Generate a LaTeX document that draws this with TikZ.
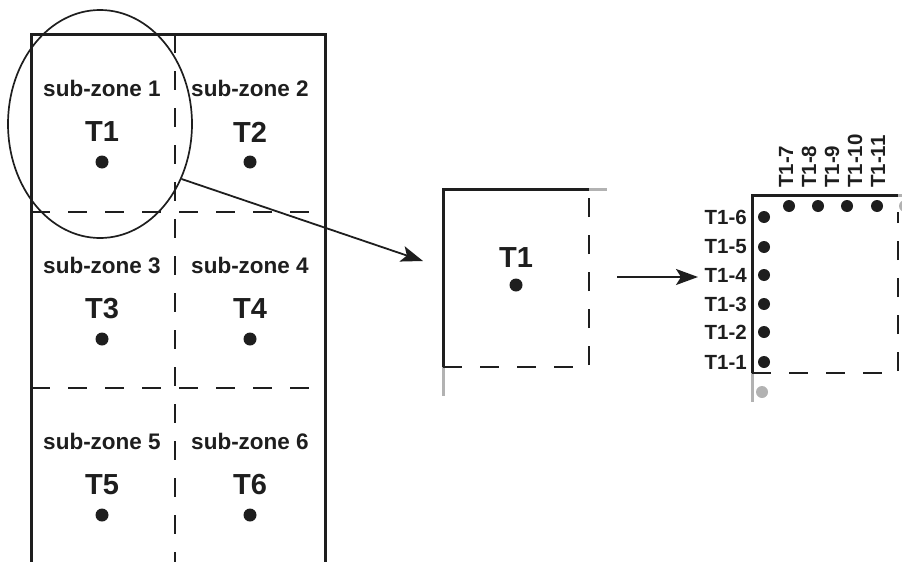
\documentclass[tikz,border=0pt]{standalone}
\usepackage{fontspec}
\setmainfont{Liberation Sans}
\usetikzlibrary{arrows.meta,shapes.geometric}
\definecolor{lgray}{RGB}{178,178,178}
\definecolor{ink}{RGB}{30,30,30}
\tikzset{
  solidline/.style={line width=3pt,ink},
  dashline/.style={line width=1.9pt,ink,dash pattern=on 19pt off 18pt},
  grayline/.style={line width=3pt,lgray},
  zonelabel/.style={font=\bfseries\fontsize{22.5}{25}\selectfont,inner sep=0pt,text=ink},
  tlabel/.style={font=\bfseries\fontsize{29}{32}\selectfont,inner sep=0pt,text=ink},
  smalllabel/.style={font=\bfseries\fontsize{20.5}{23}\selectfont,inner sep=0pt,text=ink},
  bigdot/.style={circle,fill=ink,inner sep=0pt,minimum size=13pt},
  smalldot/.style={circle,fill=ink,inner sep=0pt,minimum size=12pt},
  graydot/.style={circle,fill=lgray,inner sep=0pt,minimum size=12pt},
  link/.style={line width=1.8pt,ink,-{Stealth[length=22pt,width=16pt,inset=5pt]}}
}
\begin{document}
\begin{tikzpicture}[x=1pt,y=-1pt]
\useasboundingbox (0,0) rectangle (902,562);
% left zone grid
\draw[dashline] (175,34) -- (175,562);
\draw[dashline] (31,212) -- (325,212);
\draw[dashline] (31,388) -- (325,388);
\draw[solidline] (31,562) -- (31,34) -- (325,34) -- (325,562);
% sub-zones
\foreach \i/\x/\y in {1/102/0,2/250/0,3/102/177,4/250/177,5/102/353,6/250/353}{
  \node[zonelabel] (sz\i) at (\x,88+\y) {sub-zone \i};
  \node[tlabel] (t\i) at (\x,132+\y) {T\i};
  \node[bigdot] (d\i) at (\x,162+\y) {};
}
% ellipse
\node[ellipse,draw,line width=1.7pt,ink,minimum width=184pt,minimum height=228pt,inner sep=0pt] (ell) at (100,124) {};
% middle box
\draw[grayline] (589,189) -- (607,189);
\draw[grayline] (443,367) -- (443,396);
\draw[dashline] (443,367) -- (589,367) -- (589,189);
\draw[solidline] (443,367) -- (443,189) -- (589,189);
\node[tlabel] (mt1) at (516,258) {T1};
\node[bigdot] (md) at (516,285) {};
\coordinate (mboxin) at (423,261);
% right box
\draw[grayline] (752,373) -- (752,402);
\draw[dashline] (752,373) -- (898,373) -- (898,212);
\draw[solidline] (752,373) -- (752,195) -- (898,195);
\draw[grayline] (898,195) -- (902,195);
\foreach \i/\y in {1/362,2/332,3/304,4/275,5/247,6/217}{
  \node[smalldot] (rd\i) at (764,\y) {};
  \node[smalllabel,anchor=east] (rl\i) at (747,\y) {T1-\i};
}
\foreach \i/\x in {7/789,8/818,9/847,10/877}{
  \node[smalldot] (td\i) at (\x,206) {};
}
\node[smalllabel,rotate=90,anchor=west] (tl7) at (786,188) {T1-7};
\node[smalllabel,rotate=90,anchor=west] (tl8) at (809,188) {T1-8};
\node[smalllabel,rotate=90,anchor=west] (tl9) at (832,188) {T1-9};
\node[smalllabel,rotate=90,anchor=west] (tl10) at (855,188) {T1-10};
\node[smalllabel,rotate=90,anchor=west] (tl11) at (878,188) {T1-11};
\node[graydot] (gd1) at (905,206) {};
\node[graydot] (gd2) at (762,392) {};
\coordinate (rboxin) at (698,277);
% arrows
\draw[link] (ell.-34.4) -- (mboxin);
\coordinate (a2start) at (617,277);
\draw[link] (a2start) -- (rboxin);
\end{tikzpicture}
\end{document}
